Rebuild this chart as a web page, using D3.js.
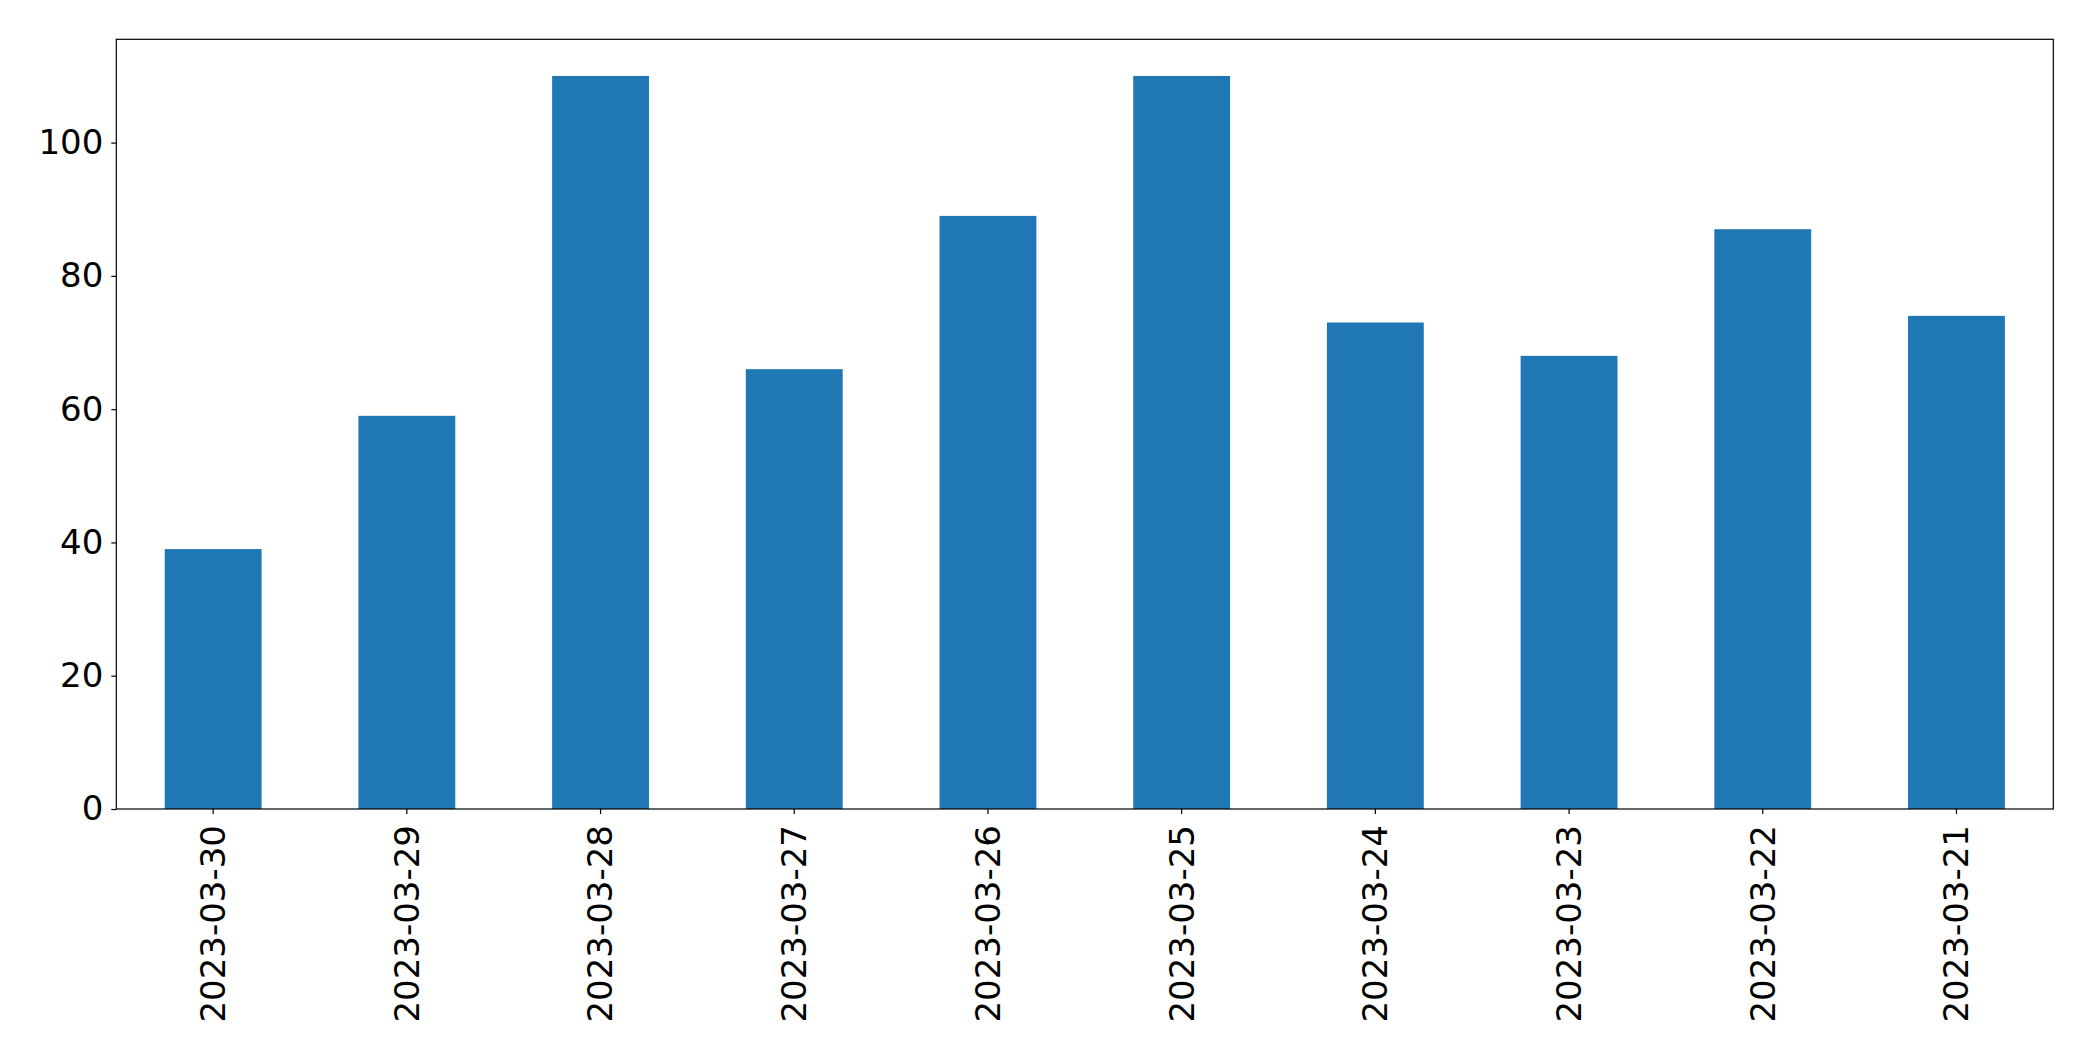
<!DOCTYPE html>
<html><head><meta charset="utf-8">
<script src="https://cdn.jsdelivr.net/npm/d3@7"></script>
<style>html,body{margin:0;padding:0;background:#fff;}svg{display:block;}</style>
</head><body>
<script>
const categories = ["2023-03-30","2023-03-29","2023-03-28","2023-03-27","2023-03-26","2023-03-25","2023-03-24","2023-03-23","2023-03-22","2023-03-21"];
const values = [39, 59, 110, 66, 89, 110, 73, 68, 87, 74];
const yTicks = [0, 20, 40, 60, 80, 100];

const W = 2093, H = 1061;
const m = {left: 116.3, top: 39.3, right: 2053.3, bottom: 809};
const svg = d3.select("body").append("svg").attr("width", W).attr("height", H);

const x = d3.scaleBand().domain(categories).range([m.left, m.right]).paddingInner(0.5).paddingOuter(0.25);
const y = d3.scaleLinear().domain([0, d3.max(values) * 1.05]).range([m.bottom, m.top]);

svg.append("g").selectAll("rect").data(values).join("rect")
  .attr("x", (d, i) => x(categories[i]))
  .attr("width", x.bandwidth())
  .attr("y", d => y(d))
  .attr("height", d => y(0) - y(d))
  .attr("fill", "#1f77b4");

const font = "'DejaVu Sans', sans-serif";
const yAxis = svg.append("g").attr("transform", `translate(${m.left},0)`)
  .call(d3.axisLeft(y).tickValues(yTicks).tickSize(5).tickPadding(8).tickFormat(d3.format("d")));
yAxis.select(".domain").remove();
yAxis.selectAll("line").attr("stroke", "#000").attr("stroke-width", 1.2);
yAxis.selectAll("text").attr("font-family", font).attr("font-size", 34).attr("fill", "#000");

const xAxis = svg.append("g").attr("transform", `translate(0,${m.bottom})`)
  .call(d3.axisBottom(x).tickSize(5).tickPadding(0));
xAxis.select(".domain").remove();
xAxis.selectAll("line").attr("stroke", "#000").attr("stroke-width", 1.2);
xAxis.selectAll("text")
  .attr("font-family", font).attr("font-size", 34).attr("fill", "#000")
  .attr("text-anchor", "end").attr("dy", "0.35em")
  .attr("transform", "translate(0,16) rotate(-90)")
  .attr("x", 0).attr("y", 0);

svg.append("rect").attr("x", m.left).attr("y", m.top)
  .attr("width", m.right - m.left).attr("height", m.bottom - m.top)
  .attr("fill", "none").attr("stroke", "#000").attr("stroke-width", 1.2);
</script>
</body></html>
